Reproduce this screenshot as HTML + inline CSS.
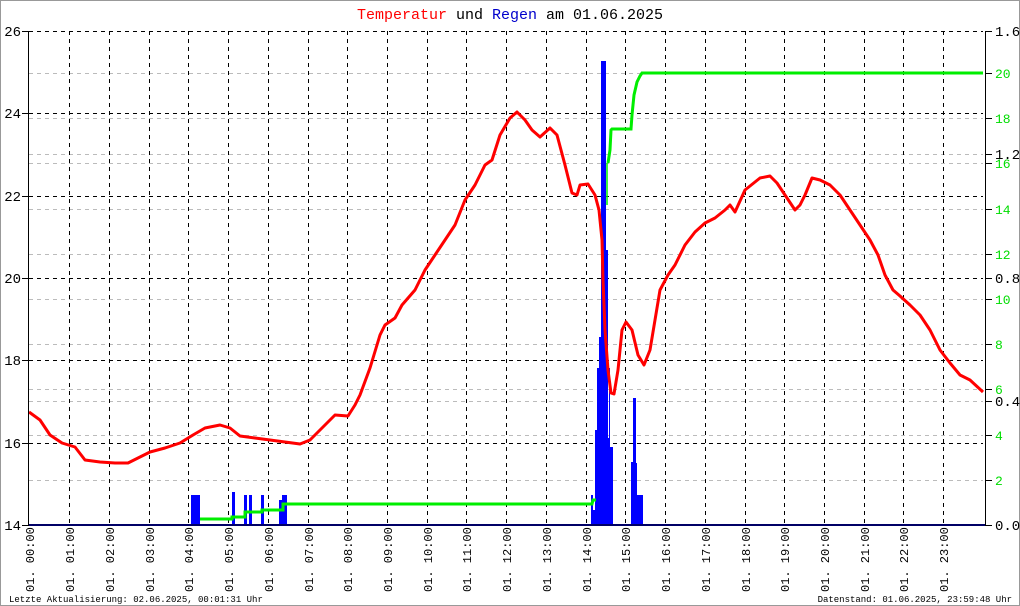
<!DOCTYPE html>
<html><head><meta charset="utf-8"><style>
html,body{margin:0;padding:0;background:#fff;}
svg{display:block;font-family:"Liberation Mono","DejaVu Sans Mono",monospace;}
</style></head><body>
<svg width="1020" height="606" viewBox="0 0 1020 606" xmlns="http://www.w3.org/2000/svg">
<rect x="0.5" y="0.5" width="1019" height="605" fill="#fff" stroke="#999"/>
<text x="510" y="19" text-anchor="middle" font-size="15"><tspan fill="#f00">Temperatur</tspan> <tspan fill="#000">und</tspan> <tspan fill="#00c">Regen</tspan> <tspan fill="#000">am 01.06.2025</tspan></text>
<!-- gray dashed (green axis ticks) -->
<g stroke="#bbb" stroke-dasharray="4,4" stroke-width="1">
<line x1="29" x2="983" y1="73.5" y2="73.5"/><line x1="29" x2="983" y1="118.5" y2="118.5"/><line x1="29" x2="983" y1="163.5" y2="163.5"/><line x1="29" x2="983" y1="154.5" y2="154.5"/><line x1="29" x2="983" y1="209.5" y2="209.5"/><line x1="29" x2="983" y1="254.5" y2="254.5"/><line x1="29" x2="983" y1="299.5" y2="299.5"/><line x1="29" x2="983" y1="344.5" y2="344.5"/><line x1="29" x2="983" y1="389.5" y2="389.5"/><line x1="29" x2="983" y1="401.5" y2="401.5"/><line x1="29" x2="983" y1="435.5" y2="435.5"/><line x1="29" x2="983" y1="480.5" y2="480.5"/>
</g>
<g stroke="#000" stroke-dasharray="4,4" stroke-width="1">
<line x1="29" x2="983" y1="31.5" y2="31.5"/><line x1="29" x2="983" y1="113.5" y2="113.5"/><line x1="29" x2="983" y1="196.5" y2="196.5"/><line x1="29" x2="983" y1="278.5" y2="278.5"/><line x1="29" x2="983" y1="360.5" y2="360.5"/><line x1="29" x2="983" y1="443.5" y2="443.5"/>
<line x1="69.5" x2="69.5" y1="31" y2="525"/><line x1="109.5" x2="109.5" y1="31" y2="525"/><line x1="149.5" x2="149.5" y1="31" y2="525"/><line x1="188.5" x2="188.5" y1="31" y2="525"/><line x1="228.5" x2="228.5" y1="31" y2="525"/><line x1="268.5" x2="268.5" y1="31" y2="525"/><line x1="308.5" x2="308.5" y1="31" y2="525"/><line x1="347.5" x2="347.5" y1="31" y2="525"/><line x1="387.5" x2="387.5" y1="31" y2="525"/><line x1="427.5" x2="427.5" y1="31" y2="525"/><line x1="466.5" x2="466.5" y1="31" y2="525"/><line x1="506.5" x2="506.5" y1="31" y2="525"/><line x1="546.5" x2="546.5" y1="31" y2="525"/><line x1="586.5" x2="586.5" y1="31" y2="525"/><line x1="625.5" x2="625.5" y1="31" y2="525"/><line x1="665.5" x2="665.5" y1="31" y2="525"/><line x1="705.5" x2="705.5" y1="31" y2="525"/><line x1="745.5" x2="745.5" y1="31" y2="525"/><line x1="784.5" x2="784.5" y1="31" y2="525"/><line x1="824.5" x2="824.5" y1="31" y2="525"/><line x1="864.5" x2="864.5" y1="31" y2="525"/><line x1="903.5" x2="903.5" y1="31" y2="525"/><line x1="943.5" x2="943.5" y1="31" y2="525"/>
</g>
<!-- blue bars -->
<g fill="#00f">
<rect x="191" y="495" width="9" height="30"/><rect x="232" y="492" width="3" height="33"/><rect x="244" y="495" width="3" height="30"/><rect x="249" y="495" width="3" height="30"/><rect x="261" y="495" width="3" height="30"/><rect x="279" y="500" width="3" height="25"/><rect x="282" y="495" width="5" height="30"/>
<rect x="591" y="495" width="2" height="30"/><rect x="593" y="510" width="2" height="15"/><rect x="595" y="430" width="2" height="95"/><rect x="597" y="368" width="2" height="157"/><rect x="599" y="337" width="2" height="188"/><rect x="601" y="61" width="2" height="464"/><rect x="603" y="61" width="3" height="464"/><rect x="606" y="250" width="2" height="275"/><rect x="607" y="438" width="2" height="87"/><rect x="609" y="368" width="1" height="157"/><rect x="610" y="447" width="3" height="78"/>
<rect x="631" y="462" width="2" height="63"/><rect x="633" y="398" width="3" height="127"/><rect x="636" y="463" width="1" height="62"/><rect x="637" y="495" width="6" height="30"/>
</g>
<!-- green cumulative -->
<polyline fill="none" stroke="#0e0" stroke-width="3" points="200,519 232,519 232,517 245,517 245,512 262,512 262,510 283,510 283,504 592,504 593,500 596,500"/>
<polyline fill="none" stroke="#0e0" stroke-width="1.5" points="607,205 607,163"/>
<polyline fill="none" stroke="#0e0" stroke-width="3" points="608,163 610,150 611,130 612,129 631,129 632,115 634,95 637,82 640,76 642,73 983,73"/>
<!-- temperature -->
<polyline fill="none" stroke="#f00" stroke-width="3" stroke-linejoin="round" points="29,412 40,420 50,435 62,443 75,447 85,460 100,462 115,463 128,463 140,457 150,452 165,448 180,443 193,435 205,428 220,425 230,428 240,436 255,438 270,440 285,442 300,444 310,440 320,430 335,415 348,416 355,405 360,395 370,368 380,335 385,325 395,318 402,305 415,290 425,270 435,255 445,240 455,225 465,200 475,185 485,165 492,160 500,135 510,118 517,112 525,120 532,130 540,137 550,128 557,135 565,165 572,193 577,195 580,185 588,184 595,195 599,210 602,240 603,280 605,330 608,370 611,393 614,394 618,370 622,330 626,322 632,330 638,355 644,365 650,350 655,320 660,290 668,275 675,265 685,245 695,232 705,223 715,218 725,210 730,205 735,212 745,190 760,178 770,176 777,183 785,195 795,210 800,205 805,195 812,178 820,180 830,185 840,195 850,210 860,225 870,240 878,255 885,275 893,290 900,296 910,305 920,315 930,330 940,350 950,363 960,375 970,380 983,392"/>
<!-- axes -->
<line x1="28.5" y1="31" x2="28.5" y2="526" stroke="#000"/>
<line x1="985.5" y1="31" x2="985.5" y2="526" stroke="#000"/>
<line x1="28" y1="525" x2="986" y2="525" stroke="#000" stroke-width="2"/>
<line x1="29" y1="525" x2="985" y2="525" stroke="#00c" stroke-width="1"/>
<g stroke="#000"><line x1="22" x2="29" y1="31.5" y2="31.5"/><line x1="22" x2="29" y1="113.5" y2="113.5"/><line x1="22" x2="29" y1="196.5" y2="196.5"/><line x1="22" x2="29" y1="278.5" y2="278.5"/><line x1="22" x2="29" y1="360.5" y2="360.5"/><line x1="22" x2="29" y1="443.5" y2="443.5"/><line x1="22" x2="29" y1="525.5" y2="525.5"/>
<line x1="985" x2="992" y1="31.5" y2="31.5"/><line x1="985" x2="992" y1="154.5" y2="154.5"/><line x1="985" x2="992" y1="278.5" y2="278.5"/><line x1="985" x2="992" y1="401.5" y2="401.5"/><line x1="985" x2="992" y1="525.5" y2="525.5"/>
<line x1="985" x2="992" y1="73.5" y2="73.5"/><line x1="985" x2="992" y1="118.5" y2="118.5"/><line x1="985" x2="992" y1="163.5" y2="163.5"/><line x1="985" x2="992" y1="209.5" y2="209.5"/><line x1="985" x2="992" y1="254.5" y2="254.5"/><line x1="985" x2="992" y1="299.5" y2="299.5"/><line x1="985" x2="992" y1="344.5" y2="344.5"/><line x1="985" x2="992" y1="389.5" y2="389.5"/><line x1="985" x2="992" y1="435.5" y2="435.5"/><line x1="985" x2="992" y1="480.5" y2="480.5"/></g>
<g font-size="14" fill="#000" text-anchor="end">
<text x="21" y="36">26</text><text x="21" y="118">24</text><text x="21" y="201">22</text><text x="21" y="283">20</text><text x="21" y="365">18</text><text x="21" y="448">16</text><text x="21" y="530">14</text>
</g>
<g font-size="14" fill="#000">
<text x="995" y="36">1.6</text><text x="995" y="159">1.2</text><text x="995" y="283">0.8</text><text x="995" y="406">0.4</text><text x="995" y="530">0.0</text>
</g>
<g font-size="13" fill="#0d0">
<text x="995" y="78">20</text><text x="995" y="123">18</text><text x="995" y="168">16</text><text x="995" y="214">14</text><text x="995" y="259">12</text><text x="995" y="304">10</text><text x="995" y="349">8</text><text x="995" y="394">6</text><text x="995" y="440">4</text><text x="995" y="485">2</text>
</g>
<g font-size="12" fill="#000">
<text transform="translate(34,592) rotate(-90)">01. 00:00</text>
<text transform="translate(74,592) rotate(-90)">01. 01:00</text>
<text transform="translate(114,592) rotate(-90)">01. 02:00</text>
<text transform="translate(154,592) rotate(-90)">01. 03:00</text>
<text transform="translate(193,592) rotate(-90)">01. 04:00</text>
<text transform="translate(233,592) rotate(-90)">01. 05:00</text>
<text transform="translate(273,592) rotate(-90)">01. 06:00</text>
<text transform="translate(313,592) rotate(-90)">01. 07:00</text>
<text transform="translate(352,592) rotate(-90)">01. 08:00</text>
<text transform="translate(392,592) rotate(-90)">01. 09:00</text>
<text transform="translate(432,592) rotate(-90)">01. 10:00</text>
<text transform="translate(471,592) rotate(-90)">01. 11:00</text>
<text transform="translate(511,592) rotate(-90)">01. 12:00</text>
<text transform="translate(551,592) rotate(-90)">01. 13:00</text>
<text transform="translate(591,592) rotate(-90)">01. 14:00</text>
<text transform="translate(630,592) rotate(-90)">01. 15:00</text>
<text transform="translate(670,592) rotate(-90)">01. 16:00</text>
<text transform="translate(710,592) rotate(-90)">01. 17:00</text>
<text transform="translate(750,592) rotate(-90)">01. 18:00</text>
<text transform="translate(789,592) rotate(-90)">01. 19:00</text>
<text transform="translate(829,592) rotate(-90)">01. 20:00</text>
<text transform="translate(869,592) rotate(-90)">01. 21:00</text>
<text transform="translate(908,592) rotate(-90)">01. 22:00</text>
<text transform="translate(948,592) rotate(-90)">01. 23:00</text>
</g>
<text x="9" y="602" font-size="9" fill="#000">Letzte Aktualisierung: 02.06.2025, 00:01:31 Uhr</text>
<text x="1012" y="602" font-size="9" fill="#000" text-anchor="end">Datenstand: 01.06.2025, 23:59:48 Uhr</text>
</svg>
</body></html>
